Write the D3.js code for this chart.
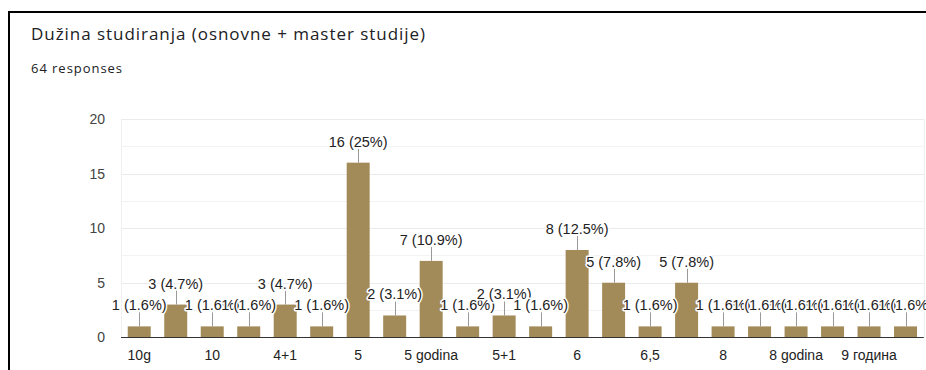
<!DOCTYPE html>
<html>
<head>
<meta charset="utf-8">
<script src="https://cdn.jsdelivr.net/npm/d3@7"></script>
<style>
  html, body { margin: 0; padding: 0; background: #fff; }
  svg { display: block; }
</style>
</head>
<body>
<svg id="chart" width="926" height="370"></svg>
<script>
// Answer categories in the order the form lists them
const categories = [
  "10g", "10 godina", "10", "4", "4+1", "4+2", "5", "5 + 1", "5 godina", "5,5 godina",
  "5+1", "5,5", "6", "6 godina", "6,5", "7", "8", "8+", "8 godina", "9",
  "9 година", "preko 10"
];
// Number of responses per category
const counts = [1, 3, 1, 1, 3, 1, 16, 2, 7, 1, 2, 1, 8, 5, 1, 5, 1, 1, 1, 1, 1, 1];
const yTicks = [0, 5, 10, 15, 20];
const yMinor = [2.5, 7.5, 12.5, 17.5];
const title = "Dužina studiranja (osnovne + master studije)";
const totalResponses = 64;

const svg = d3.select("#chart");
const W = 926, H = 370;

// card border
svg.append("rect")
  .attr("x", 9).attr("y", 12)
  .attr("width", W + 20).attr("height", H + 20)
  .attr("fill", "#fff")
  .attr("stroke", "#000").attr("stroke-width", 2);

svg.append("text")
  .attr("x", 31).attr("y", 40)
  .attr("font-family", "'Open Sans', Roboto, sans-serif")
  .attr("font-size", 17)
  .attr("fill", "#202124")
  .attr("textLength", 394).attr("lengthAdjust", "spacing")
  .text(title);

svg.append("text")
  .attr("x", 31).attr("y", 73)
  .attr("font-family", "'Open Sans', Roboto, sans-serif")
  .attr("font-size", 13)
  .attr("fill", "#202124")
  .attr("textLength", 91).attr("lengthAdjust", "spacing")
  .text(totalResponses + " responses");

const plot = { left: 121, top: 119, bottom: 337.3 };
const step = 36.49;
const plotRight = plot.left + step * categories.length;

const x = d3.scaleBand()
  .domain(categories)
  .range([plot.left, plotRight])
  .paddingInner(0.37)
  .paddingOuter(0.185);

const y = d3.scaleLinear()
  .domain([0, 20])
  .range([plot.bottom, plot.top]);

const font = "'Liberation Sans', Arial, sans-serif";

// gridlines
const grid = svg.append("g");
grid.selectAll("line.minor")
  .data(yMinor).join("line")
  .attr("class", "minor")
  .attr("x1", plot.left).attr("x2", plotRight)
  .attr("y1", d => Math.round(y(d)) + 0.5).attr("y2", d => Math.round(y(d)) + 0.5)
  .attr("stroke", "#f3f3f3");
grid.selectAll("line.major")
  .data(yTicks.filter(d => d > 0)).join("line")
  .attr("class", "major")
  .attr("x1", plot.left).attr("x2", plotRight)
  .attr("y1", d => Math.round(y(d)) + 0.5).attr("y2", d => Math.round(y(d)) + 0.5)
  .attr("stroke", "#ebebeb");
grid.selectAll("line.side")
  .data([plot.left, plotRight]).join("line")
  .attr("class", "side")
  .attr("x1", d => Math.round(d) + 0.5).attr("x2", d => Math.round(d) + 0.5)
  .attr("y1", plot.top).attr("y2", plot.bottom)
  .attr("stroke", "#f0f0f0");

// y axis labels
const yAxis = d3.axisLeft(y).tickValues(yTicks).tickSize(0).tickPadding(0);
svg.append("g")
  .attr("transform", `translate(105,0)`)
  .call(yAxis)
  .call(g => g.select(".domain").remove())
  .call(g => g.selectAll("text")
    .attr("font-family", font).attr("font-size", 14).attr("fill", "#444"));

// bars
svg.append("g").selectAll("rect")
  .data(categories).join("rect")
  .attr("x", d => x(d))
  .attr("width", x.bandwidth())
  .attr("y", (d, i) => y(counts[i]))
  .attr("height", (d, i) => y(0) - y(counts[i]))
  .attr("fill", "#a38b59");

// baseline
svg.append("line")
  .attr("x1", plot.left).attr("x2", plotRight)
  .attr("y1", Math.round(plot.bottom) + 0.5).attr("y2", Math.round(plot.bottom) + 0.5)
  .attr("stroke", "#333");

// x axis labels, every second category
const xAxis = d3.axisBottom(x)
  .tickValues(categories.filter((d, i) => i % 2 === 0))
  .tickSize(0).tickPadding(0);
svg.append("g")
  .attr("transform", `translate(0,${plot.bottom})`)
  .call(xAxis)
  .call(g => g.select(".domain").remove())
  .call(g => g.selectAll("text")
    .attr("dy", null).attr("y", 23)
    .attr("font-family", font).attr("font-size", 14).attr("fill", "#222"));

// value labels with leader lines
const labels = svg.append("g");
categories.forEach((c, i) => {
  const cx = x(c) + x.bandwidth() / 2;
  const top = y(counts[i]);
  const pct = Math.round(counts[i] / totalResponses * 1000) / 10;
  labels.append("line")
    .attr("x1", Math.round(cx) + 0.5).attr("x2", Math.round(cx) + 0.5)
    .attr("y1", top).attr("y2", top - 14)
    .attr("stroke", "#999");
  labels.append("text")
    .attr("x", cx).attr("y", top - 16)
    .attr("text-anchor", "middle")
    .attr("font-family", font).attr("font-size", 14.5)
    .attr("fill", "#222")
    .attr("stroke", "#fff").attr("stroke-width", 3)
    .attr("paint-order", "stroke")
    .attr("stroke-linejoin", "round")
    .text(`${counts[i]} (${pct}%)`);
});
</script>
</body>
</html>
